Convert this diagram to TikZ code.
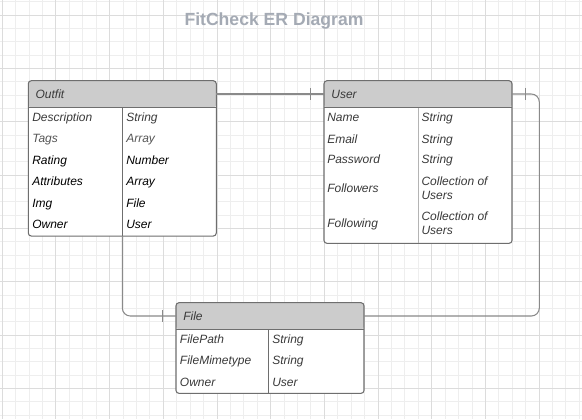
\documentclass[tikz,border=0pt]{standalone}
\usepackage{fontspec}
\setmainfont{Liberation Sans}
\definecolor{gridminor}{HTML}{EEEEEE}
\definecolor{gridmajor}{HTML}{DCDCDC}
\definecolor{boxline}{HTML}{6E6E6E}
\definecolor{lightsep}{HTML}{B4B4B4}
\definecolor{hdrfill}{HTML}{CCCCCC}
\definecolor{connline}{HTML}{8A8A8A}
\definecolor{txtgray}{HTML}{3A3A3A}
\definecolor{txtlight}{HTML}{555555}
\definecolor{titlegray}{HTML}{A4AAB4}
\tikzset{
  entity/.style={draw=boxline, line width=0.8pt, fill=white, rounded corners=2.25pt,
    inner sep=0pt, outer sep=0pt, anchor=north west, minimum width=141pt,
    path picture={\fill[hdrfill] (path picture bounding box.north west) rectangle ([yshift=-19.95pt]path picture bounding box.north east);}},
  hdr/.style={anchor=north west, minimum width=141pt, minimum height=19.95pt, inner sep=0pt,
    outer sep=0pt, text width=130pt, align=left, text=txtgray,
    font=\fontsize{9pt}{10.5pt}\selectfont\itshape},
  sepline/.style={draw=boxline, line width=0.8pt},
  attr/.style={anchor=base west, inner sep=0pt, text=txtgray, font=\fontsize{9pt}{10.5pt}\selectfont\itshape},
  attrl/.style={attr, text=txtlight},
  attrb/.style={attr, text=black},
  attrm/.style={anchor=west, inner sep=0pt, align=left, text=txtgray, font=\fontsize{9pt}{10.5pt}\selectfont\itshape},
  conn/.style={draw=connline, line width=0.8pt},
  tick/.style={draw=connline, line width=0.8pt},
  titletext/.style={anchor=base, inner sep=0pt, text=titlegray, font=\fontsize{13.2pt}{15pt}\selectfont\bfseries}
}
\begin{document}
\begin{tikzpicture}[x=0.75pt,y=-0.75pt]
\fill[white] (0,0) rectangle (582,419);
\useasboundingbox (0,0) rectangle (582,419);
% grid
\foreach \i in {0,...,43}{\draw[gridminor,line width=0.75pt] ({2.3+13.42*\i},0) -- ({2.3+13.42*\i},419);}
\foreach \j in {0,...,31}{\draw[gridminor,line width=0.75pt] (0,{1.77+13.33*\j}) -- (582,{1.77+13.33*\j});}
\foreach \i in {0,...,10}{\draw[gridmajor,line width=0.75pt] ({2.3+53.68*\i},0) -- ({2.3+53.68*\i},419);}
\foreach \j in {0,...,7}{\draw[gridmajor,line width=0.75pt] (0,{15.1+53.32*\j}) -- (582,{15.1+53.32*\j});}

\node[titletext] (title) at (274,25.3) {FitCheck ER Diagram};

% Outfit
\node[entity, minimum height=116.5pt] (outfit) at (28.3,80.7) {};
\node[hdr] (outfitH) at (outfit.north west) {Outfit};
\draw[sepline] (outfitH.south west) -- (outfitH.south east);
\draw[sepline] (122.3,107.3) -- (122.3,236);
\node[attr] (o1) at (32,121) {Description};
\node[attrl] (o2) at (32,142.5) {Tags};
\node[attrb] (o3) at (32,164) {Rating};
\node[attrb] (o4) at (32,185.5) {Attributes};
\node[attrb] (o5) at (32,207) {Img};
\node[attrb] (o6) at (32,228.5) {Owner};
\node[attr] (t1) at (126,121) {String};
\node[attrl] (t2) at (126,142.5) {Array};
\node[attrb] (t3) at (126,164) {Number};
\node[attrb] (t4) at (126,185.5) {Array};
\node[attrb] (t5) at (126,207) {File};
\node[attrb] (t6) at (126,228.5) {User};

% User
\node[entity, minimum height=122pt] (user) at (324,80.7) {};
\node[hdr] (userH) at (user.north west) {User};
\draw[sepline] (userH.south west) -- (userH.south east);
\draw[sepline, draw=lightsep] (418.3,107.9) -- (418.3,242.8);
\node[attr] (u1) at (327,121) {Name};
\node[attr] (u2) at (327,143) {Email};
\node[attr] (u3) at (327,163.6) {Password};
\node[attr] (u4) at (327,192.6) {Followers};
\node[attr] (u5) at (327,227.8) {Following};
\node[attr] (v1) at (421.3,121) {String};
\node[attr] (v2) at (421.3,143) {String};
\node[attr] (v3) at (421.3,163.6) {String};
\node[attrm] (v4) at (421.3,188.7) {Collection of\\Users};
\node[attrm] (v5) at (421.3,223.7) {Collection of\\Users};

% File
\node[entity, minimum height=68pt] (file) at (176,302.7) {};
\node[hdr] (fileH) at (file.north west) {File};
\draw[sepline] (fileH.south west) -- (fileH.south east);
\draw[sepline] (268.7,329.3) -- (268.7,393.3);
\node[attr] (f1) at (179.7,343.3) {FilePath};
\node[attr] (f2) at (179.7,364.8) {FileMimetype};
\node[attr] (f3) at (179.7,386.3) {Owner};
\node[attr] (g1) at (272,343.3) {String};
\node[attr] (g2) at (272,364.8) {String};
\node[attr] (g3) at (272,386.3) {User};

% connectors
\coordinate (odivb) at (122.3,236);
\draw[conn] (outfitH.east) -- (userH.west);
\draw[tick] ([xshift=-10.3pt]userH.west) ++(0,-6.2) -- ++(0,12.4);
\draw[conn, rounded corners=6pt] (userH.east) -- ++(27.3,0) |- (fileH.east);
\draw[tick] ([xshift=10.3pt]userH.east) ++(0,-6.2) -- ++(0,12.4);
\draw[conn, rounded corners=6pt] (odivb) |- (fileH.west);
\draw[tick] ([xshift=-10pt]fileH.west) ++(0,-6.2) -- ++(0,12.4);
\end{tikzpicture}
\end{document}
